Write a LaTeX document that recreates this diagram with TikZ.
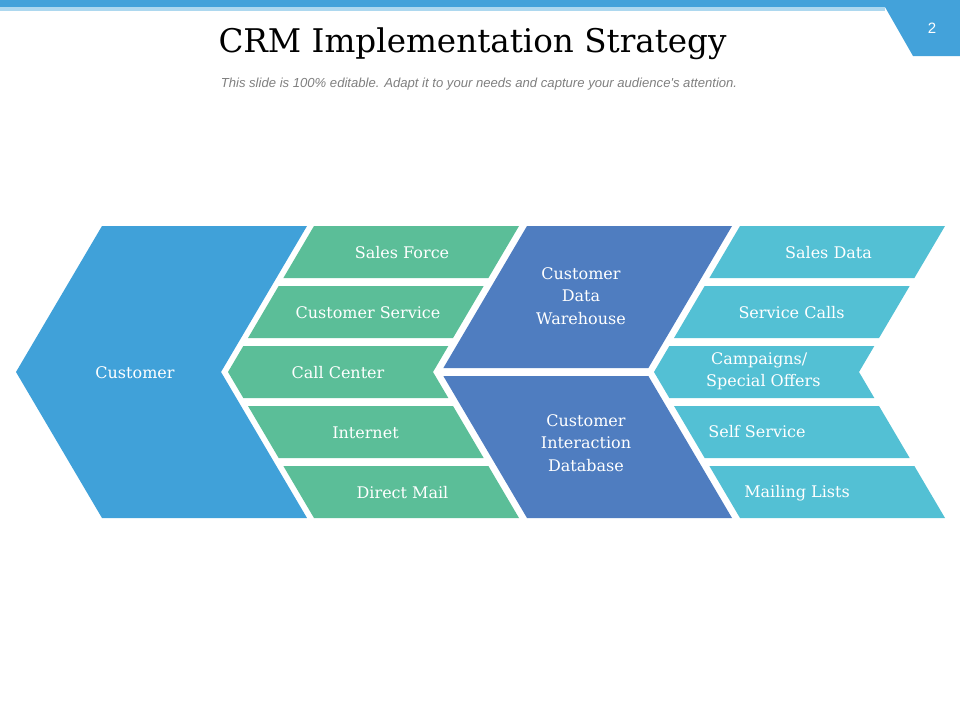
\documentclass[tikz,border=0pt]{standalone}
\usepackage{fontspec}
\setmainfont{DejaVu Serif}
\newfontfamily\subfont{Liberation Sans}
\definecolor{barblue}{HTML}{43A2DA}
\definecolor{lightline}{HTML}{ADD8EF}
\definecolor{custblue}{HTML}{40A1D9}
\definecolor{chgreen}{HTML}{5BBE98}
\definecolor{dbblue}{HTML}{4F7DC0}
\definecolor{cyanb}{HTML}{53C0D4}
\definecolor{subgray}{HTML}{808080}
\newcommand\kk{0.589}
% parallelogram stripe: #1 colour, #2 apex, #3 y1, #4 y2
\newcommand\pstripe[4]{%
  \fill[#1] ({#2+\kk*abs(#3-372)},#3) -- ({#2+205+\kk*abs(#3-372)},#3)
    -- ({#2+205+\kk*abs(#4-372)},#4) -- ({#2+\kk*abs(#4-372)},#4) -- cycle;}
% hexagonal stripe spanning the centre line
\newcommand\hstripe[4]{%
  \fill[#1] ({#2+\kk*abs(#3-372)},#3) -- ({#2+205+\kk*abs(#3-372)},#3)
    -- ({#2+205},372) -- ({#2+205+\kk*abs(#4-372)},#4)
    -- ({#2+\kk*abs(#4-372)},#4) -- ({#2},372) -- cycle;}
\begin{document}
\begin{tikzpicture}[x=1pt,y=-1pt,
  lbl/.style={text=white,font=\fontsize{16}{22.5}\selectfont,inner sep=0pt,anchor=base},
  mlbl/.style={text=white,font=\fontsize{16}{22.5}\selectfont,inner sep=0pt,align=center}]
\useasboundingbox[fill=white] (0,0) rectangle (960,720);
% top decoration
\fill[barblue] (0,0) rectangle (960,7);
\fill[lightline] (0,7) rectangle (885,11);
\fill[barblue] (885,7) -- (960,7) -- (960,56) -- (913,56) -- cycle;
\node[text=white,font=\subfont\fontsize{15}{17}\selectfont,inner sep=0pt] (num) at (932,28) {2};
% title
\node[font=\fontsize{32.6}{36}\selectfont,inner sep=0pt,anchor=base] (title) at (472.5,52) {CRM Implementation Strategy};
\node[text=subgray,font=\subfont\itshape\fontsize{13.1}{15}\selectfont,inner sep=0pt,anchor=base] (sub) at (479,87) {This slide is 100\% editable. Adapt it to your needs and capture your audience's attention.};
% customer
\hstripe{custblue}{16}{226}{518}
% green band
\pstripe{chgreen}{228}{226}{278}
\pstripe{chgreen}{228}{286}{338}
\hstripe{chgreen}{228}{346}{398}
\pstripe{chgreen}{228}{406}{458}
\pstripe{chgreen}{228}{466}{518}
% dark blue band
\pstripe{dbblue}{441}{226}{368}
\pstripe{dbblue}{441}{376}{518}
% cyan band
\pstripe{cyanb}{654}{226}{278}
\pstripe{cyanb}{654}{286}{338}
\hstripe{cyanb}{654}{346}{398}
\pstripe{cyanb}{654}{406}{458}
\pstripe{cyanb}{654}{466}{518}
% labels
\node[lbl] (cust) at (135,378) {Customer};
\node[lbl] (sf) at (402,258) {Sales Force};
\node[lbl] (cs) at (368,318) {Customer Service};
\node[lbl] (cc) at (338,378) {Call Center};
\node[lbl] (inet) at (365.5,438) {Internet};
\node[lbl] (dm) at (402.5,498) {Direct Mail};
\node[mlbl] (cdw) at (581,296) {Customer\\Data\\Warehouse};
\node[mlbl] (cid) at (586,443) {Customer\\Interaction\\Database};
\node[lbl] (sd) at (828.5,258) {Sales Data};
\node[lbl] (sc) at (791.5,318) {Service Calls};
\node[mlbl,align=left,anchor=west] (cso) at (706,371) {\hspace*{5pt}Campaigns/\\Special Offers};
\node[lbl] (ss) at (757,437) {Self Service};
\node[lbl] (ml) at (797,497) {Mailing Lists};
\end{tikzpicture}
\end{document}
